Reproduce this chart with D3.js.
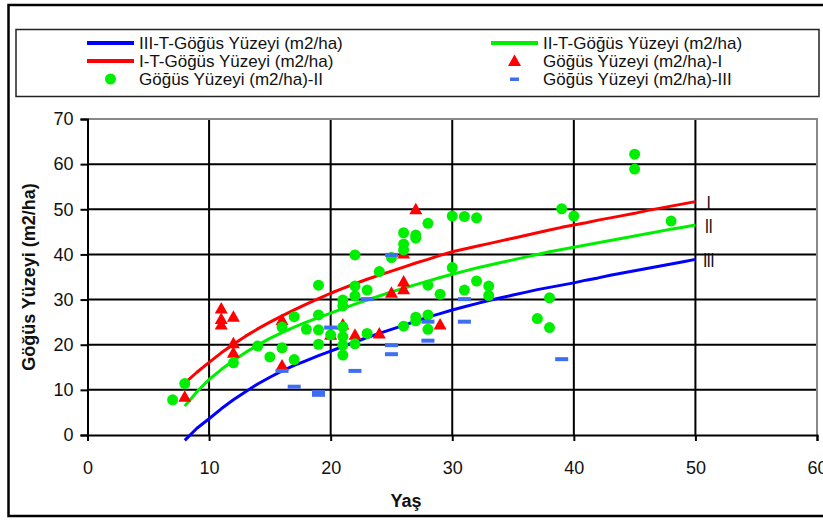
<!DOCTYPE html>
<html>
<head>
<meta charset="utf-8">
<script src="https://cdn.jsdelivr.net/npm/d3@7"></script>
<style>
  body { margin: 0; background: #fff; }
  svg { display: block; }
  text { font-family: "Liberation Sans", Arial, sans-serif; fill: #111; }
</style>
</head>
<body>
<svg id="chart" width="823" height="520"></svg>
<script>
// Ages (years) at which the fitted curves are tabulated
const curveAges = [8, 9, 10, 11, 12, 13, 14, 15, 16, 17, 18, 19, 20, 21, 22, 23, 24, 25, 26, 27, 28, 29,
  30, 31, 32, 33, 34, 35, 36, 37, 38, 39, 40, 41, 42, 43, 44, 45, 46, 47, 48, 49, 50];

// Fitted breast-height basal area (m2/ha) per site class
const curveI = [11.5, 13.9, 16.1, 18.2, 20.1, 21.9, 23.5, 25.0, 26.4, 27.7, 29.0, 30.2, 31.4, 32.5, 33.5,
  34.5, 35.4, 36.3, 37.2, 38.1, 38.9, 39.8, 40.6, 41.2, 41.8, 42.4, 43.0, 43.6, 44.2, 44.8, 45.4, 46.0,
  46.5, 47.0, 47.6, 48.1, 48.6, 49.1, 49.7, 50.2, 50.7, 51.2, 51.7];
const curveII = [6.4, 9.6, 12.3, 14.5, 16.5, 18.3, 19.9, 21.4, 22.7, 23.9, 25.0, 26.0, 27.0, 28.0, 29.0,
  29.9, 30.8, 31.7, 32.5, 33.3, 34.1, 34.9, 35.6, 36.3, 37.0, 37.6, 38.2, 38.8, 39.4, 40.0, 40.6, 41.1,
  41.6, 42.1, 42.6, 43.1, 43.6, 44.1, 44.6, 45.1, 45.6, 46.0, 46.5];
const curveIII = [-1.2, 1.5, 3.6, 5.8, 7.8, 9.6, 11.3, 12.8, 14.2, 15.4, 16.5, 17.6, 18.6, 19.6, 20.6,
  21.6, 22.5, 23.4, 24.3, 25.2, 26.1, 26.9, 27.7, 28.4, 29.1, 29.8, 30.4, 31.0, 31.6, 32.2, 32.7, 33.2,
  33.7, 34.3, 34.8, 35.4, 35.9, 36.4, 36.9, 37.4, 37.9, 38.4, 38.9];

// Observed plots: [age, basal area]
const obsI = [[8, 8.5], [11, 28.0], [11, 25.7], [11, 24.5], [12, 26.2], [12, 20.3], [12, 18.2], [16, 25.5],
  [16, 15.4], [20, 22.2], [21, 24.5], [22, 22.2], [24, 22.5], [25, 31.5], [26, 40.2], [26, 34.0],
  [26, 32.3], [27, 50.0], [29, 24.5]];
const obsII = [[7, 7.8], [8, 11.4], [12, 16.0], [14, 19.7], [15, 17.3], [16, 23.9], [16, 19.3], [17, 26.2],
  [17, 16.7], [18, 23.4], [19, 33.2], [19, 26.6], [19, 23.3], [19, 20.1], [20, 22.2], [21, 29.9],
  [21, 28.6], [21, 23.9], [21, 21.8], [21, 19.9], [21, 17.7], [22, 39.9], [22, 33.0], [22, 30.8],
  [22, 20.2], [23, 32.1], [23, 22.5], [24, 36.2], [25, 39.3], [26, 44.8], [26, 42.3], [26, 41.0],
  [26, 24.1], [27, 44.3], [27, 43.6], [27, 26.1], [27, 25.3], [28, 46.9], [28, 33.2], [28, 26.6],
  [28, 23.4], [29, 31.2], [30, 48.5], [30, 37.1], [31, 48.4], [31, 32.1], [32, 48.1], [32, 34.1],
  [33, 33.0], [33, 30.9], [37, 25.8], [38, 30.4], [38, 23.8], [39, 50.1], [40, 48.5], [45, 62.2],
  [45, 58.9], [48, 47.4]];
const obsIII = [[16, 14.2], [17, 10.7], [19, 9.5], [19, 8.9], [20, 23.8], [22, 14.2], [23, 30.1],
  [25, 39.9], [25, 19.9], [25, 17.9], [28, 25.1], [28, 20.9], [31, 30.1], [31, 25.1], [39, 16.8]];

const xTicks = [0, 10, 20, 30, 40, 50, 60];
const yTicks = [0, 10, 20, 30, 40, 50, 60, 70];
const classLabels = ["I", "II", "III"];

const legendItems = [
  { label: "III-T-Göğüs Yüzeyi (m2/ha)", kind: "line", color: "#0000ff", col: 0, row: 0 },
  { label: "II-T-Göğüs Yüzeyi (m2/ha)", kind: "line", color: "#00ee00", col: 1, row: 0 },
  { label: "I-T-Göğüs Yüzeyi (m2/ha)", kind: "line", color: "#ff0000", col: 0, row: 1 },
  { label: "Göğüs Yüzeyi (m2/ha)-I", kind: "triangle", color: "#ff0000", col: 1, row: 1 },
  { label: "Göğüs Yüzeyi (m2/ha)-II", kind: "circle", color: "#00ee00", col: 0, row: 2 },
  { label: "Göğüs Yüzeyi (m2/ha)-III", kind: "dash", color: "#3f6ff0", col: 1, row: 2 }
];

const svg = d3.select("#chart");
const x = d3.scaleLinear().domain([0, 60]).range([87.5, 817]);
const y = d3.scaleLinear().domain([0, 70]).range([435, 119]);

// Outer chart frame
svg.append("rect").attr("x", 8.5).attr("y", 5).attr("width", 840).attr("height", 511)
  .attr("fill", "#fff").attr("stroke", "#000").attr("stroke-width", 2.5);

// Gridlines
svg.append("g").selectAll("line").data(yTicks.filter(v => v > 0 && v < 70)).join("line")
  .attr("x1", x(0)).attr("x2", x(60)).attr("y1", d => y(d)).attr("y2", d => y(d))
  .attr("stroke", "#000").attr("stroke-width", 2);
svg.append("g").selectAll("line").data(xTicks.filter(v => v > 0 && v < 60)).join("line")
  .attr("y1", y(0)).attr("y2", y(70)).attr("x1", d => x(d)).attr("x2", d => x(d))
  .attr("stroke", "#000").attr("stroke-width", 2);
// Plot-area border (top and right)
svg.append("path")
  .attr("d", `M${x(0)},${y(70)}H${x(60)}V${y(0)}`)
  .attr("fill", "none").attr("stroke", "#888").attr("stroke-width", 2);

// Axes
const yAxis = svg.append("g").attr("transform", `translate(${x(0)},0)`)
  .call(d3.axisLeft(y).tickValues(yTicks).tickSize(7).tickPadding(7).tickFormat(d3.format("d")));
const xAxis = svg.append("g").attr("transform", `translate(0,${y(0)})`)
  .call(d3.axisBottom(x).tickValues(xTicks).tickSize(6).tickPadding(20).tickFormat(d3.format("d")));
[xAxis, yAxis].forEach(g => {
  g.select(".domain").attr("stroke", "#000").attr("stroke-width", 2);
  g.selectAll(".tick line").attr("stroke", "#000").attr("stroke-width", 2);
  g.selectAll(".tick text").attr("font-size", 18).attr("fill", "#111")
    .attr("font-family", "'Liberation Sans', Arial, sans-serif");
});

// Axis titles
svg.append("text").attr("x", 406).attr("y", 507).attr("text-anchor", "middle")
  .attr("font-size", 18).attr("font-weight", "bold").text("Yaş");
svg.append("text").attr("transform", "translate(35,277) rotate(-90)").attr("text-anchor", "middle")
  .attr("font-size", 18).attr("font-weight", "bold").text("Göğüs Yüzeyi (m2/ha)");

// Fitted curves
const line = d3.line().x(d => x(d[0])).y(d => y(d[1]));
const curves = [
  { values: curveIII, color: "#0000ff" },
  { values: curveII, color: "#00ee00" },
  { values: curveI, color: "#ff0000" }
];
curves.forEach(c => {
  svg.append("path").datum(curveAges.map((a, i) => [a, c.values[i]]))
    .attr("d", line).attr("fill", "none").attr("stroke", c.color)
    .attr("stroke-width", 3).attr("stroke-linejoin", "round");
});

// Observed plots
const triPath = "M0,-6.5L6.5,5L-6.5,5Z";
svg.append("g").selectAll("path").data(obsI).join("path")
  .attr("transform", d => `translate(${x(d[0])},${y(d[1])})`)
  .attr("d", triPath).attr("fill", "#ff0000");
svg.append("g").selectAll("circle").data(obsII).join("circle")
  .attr("cx", d => x(d[0])).attr("cy", d => y(d[1])).attr("r", 5.5).attr("fill", "#00ee00");
svg.append("g").selectAll("rect").data(obsIII).join("rect")
  .attr("x", d => x(d[0]) - 6.5).attr("y", d => y(d[1]) - 2).attr("width", 13).attr("height", 4)
  .attr("fill", "#3f6ff0");

// Site-class labels at the curve ends
const endVals = [curveI[curveI.length - 1], curveII[curveII.length - 1], curveIII[curveIII.length - 1]];
const lastAge = curveAges[curveAges.length - 1];
svg.append("g").selectAll("text").data(classLabels).join("text")
  .attr("transform", (d, i) => `translate(${x(lastAge) + 13},${y(endVals[i]) + 8}) scale(0.75,1)`)
  .attr("text-anchor", "middle").attr("font-size", 21).attr("fill", "#222")
  .attr("letter-spacing", -1).text(d => d);

// Legend
const legend = svg.append("g");
legend.append("rect").attr("x", 16).attr("y", 29.5).attr("width", 803).attr("height", 67)
  .attr("fill", "#fff").attr("stroke", "#222").attr("stroke-width", 1.5);
const colX = [87, 491], rowY = [43, 61, 79];
legendItems.forEach(it => {
  const x0 = colX[it.col], yy = rowY[it.row], cx = x0 + 23.5;
  if (it.kind === "line") {
    legend.append("line").attr("x1", x0).attr("x2", x0 + 47).attr("y1", yy).attr("y2", yy)
      .attr("stroke", it.color).attr("stroke-width", 4);
  } else if (it.kind === "triangle") {
    legend.append("path").attr("transform", `translate(${cx},${yy})`).attr("d", triPath).attr("fill", it.color);
  } else if (it.kind === "circle") {
    legend.append("circle").attr("cx", cx).attr("cy", yy).attr("r", 5.5).attr("fill", it.color);
  } else {
    legend.append("rect").attr("x", cx - 4.5).attr("y", yy - 1.5).attr("width", 9).attr("height", 3.5)
      .attr("fill", it.color);
  }
  legend.append("text").attr("x", x0 + 52).attr("y", yy + 6).attr("font-size", 17).text(it.label);
});
</script>
</body>
</html>
